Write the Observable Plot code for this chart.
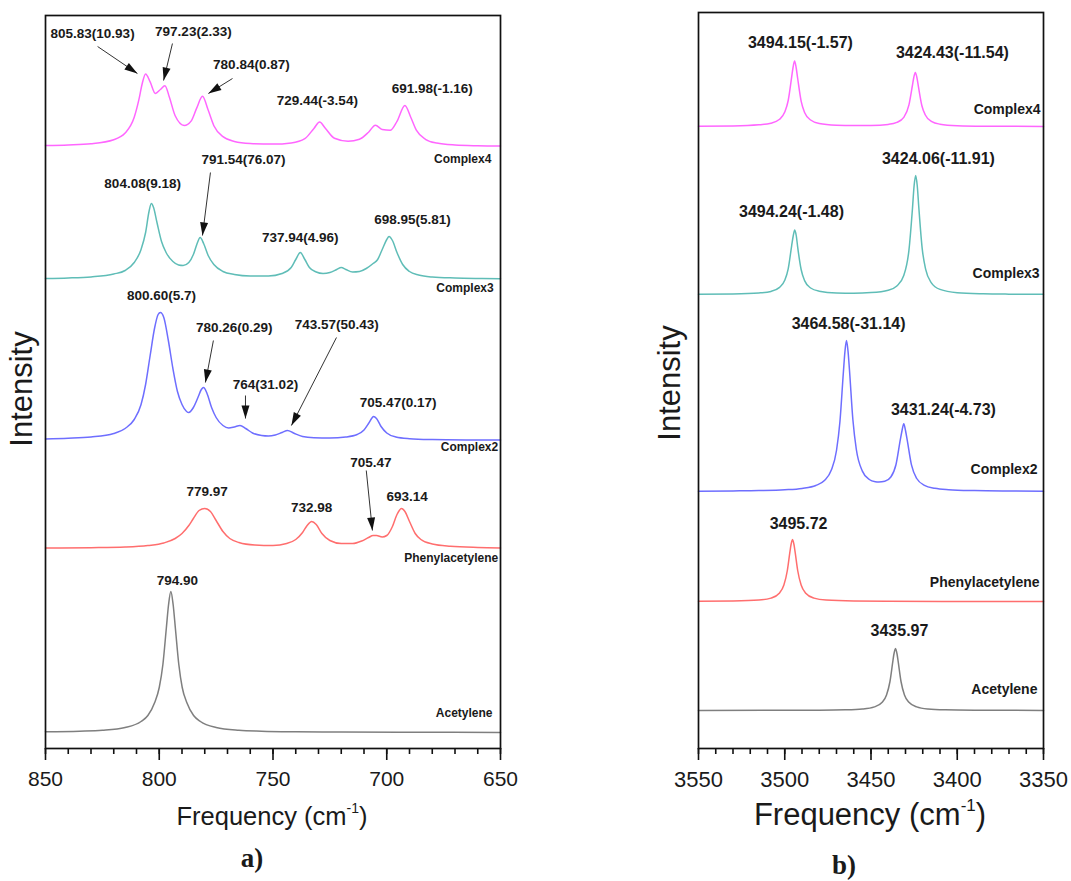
<!DOCTYPE html>
<html><head><meta charset="utf-8">
<script src="https://cdn.jsdelivr.net/npm/d3@7"></script>
<script src="https://cdn.jsdelivr.net/npm/@observablehq/plot@0.6"></script>
<style>
body{margin:0;background:#fff;font-family:"Liberation Sans",Arial,sans-serif;}
#wrap{position:relative;width:1071px;height:881px;overflow:hidden;}
#wrap svg{position:absolute;top:0;}
.lbl{position:absolute;transform:translate(-50%,-50%);white-space:nowrap;color:#1a1a1a;}
.rot{transform:translate(-50%,-50%) rotate(-90deg);}
sup{font-size:0.55em;vertical-align:0.85em;line-height:0;}
.pan{font-family:"Liberation Serif","Times New Roman",serif;font-weight:bold;font-size:27px;}
</style>
</head><body><div id="wrap"></div>
<script>
// ---------- series names & colours ----------
const seriesNames = ["Complex4","Complex3","Complex2","Phenylacetylene","Acetylene"];
const seriesColors = ["#ff66ff","#5fbdb7","#6e6eff","#ff6e6e","#7f7f7f"];

// ---------- panel a) 850-650 cm-1 : baselines and [frequency, intensity above baseline] ----------
const leftOffsets = [602, 469, 308, 200, 16];
const leftC4 = [[850,1.0],[840,1.6],[830,2.8],[820,6.8],[815,13.4],[811,29.2],[809,46.3],[807.5,62.8],[806,72.6],[804,64.6],[801.7,53],[799.5,57],[797.5,60.8],[795.5,48.9],[793,30.7],[789,21],[786,25.4],[783.5,38.6],[781,50.2],[778.5,36.4],[776,20.8],[772,9.8],[767,5.1],[760,3.0],[750,2.4],[742,3.6],[736,7.9],[732,18.1],[729.5,24.5],[727,18.2],[723,8.2],[717,5.2],[712,7.2],[708,14.3],[705,21.3],[702,17.0],[698.5,16.2],[695.5,25.2],[692,41],[689.5,29.5],[687,16.3],[683,7.2],[678,3.4],[670,1.5],[660,0.75],[650,0.45]];
const leftC3 = [[850,1.0],[840,1.5],[830,2.6],[820,5.5],[815,9],[811,17],[808,30],[806,47],[804.5,68],[803.5,76],[802.5,72],[801,57],[799,38],[797,27],[794,18],[791.5,14.5],[789.5,14],[787,17],[785,25],[783.5,35],[782,42],[780.5,36],[778.5,24],[776,15],[772,8],[767,5],[760,3.5],[752,3.5],[746,6],[742,12],[740,20],[738,27],[736,20],[734,12],[731,7.5],[728,6],[725,7],[722,10],[720,12],[718,10],[715,7.5],[712,8],[709,11],[706,16],[704,20],[702,30],[700,40],[699,43],[697.5,39],[695.5,27],[693,15],[690,8],[686,4.5],[680,2.5],[670,1.5],[660,1],[650,0.7]];
const leftC2 = [[850,1.5],[840,2.2],[830,3.5],[820,7],[815,12],[811,21],[808,36],[806,56],[804,85],[802,113],[800.5,126],[799.5,128],[798,123],[796,100],[794,72],[792,49],[790,36],[788,29],[787,28],[785,33],[783,43],[781.5,51],[780.5,53],[779,47],[777,33],[775,23],[772,15],[769.5,12.5],[767,13.5],[764.5,15],[762,12],[759,7.5],[755,5],[752,4.5],[749,5.5],[746,8],[743.6,10],[741,7.5],[737,4],[732,2.8],[725,2.5],[718,3.5],[713,6],[710,10.5],[708,17],[706.5,22.5],[705.8,24],[704.5,22],[702.5,14],[700,7.5],[696,3.5],[690,1.8],[680,0.9],[665,0.5],[650,0.4]];
const leftPh = [[850,0.4],[830,0.8],[815,1.5],[805,3],[798,5.5],[793,10],[790,15],[787,23],[785,30],[782.5,38],[780,40],[777.5,37],[775,28],[772,17],[769,10],[765,6],[758,3.5],[750,3],[744,5],[740,9],[737,16],[735,23],[733,27],[731,24],[728.5,15],[725,8],[720,5],[715,5],[711,7.5],[708,11],[706,13],[704.5,13],[702,11.5],[700,13],[697.5,22],[695.5,34],[693.5,40],[692,37],[690,27],[687.5,15],[685,9],[680,4.5],[672,2.2],[660,1],[650,0.6]];
const leftAc = [[850,0.7],[835,1.3],[825,2.2],[815,5],[808,11],[805,17],[802,30],[800,45],[798.4,68],[796.9,104],[795.9,128],[794.9,141],[793.9,128],[792.9,104],[791.4,68],[789.9,45],[787.9,30],[784.9,17],[781.9,11],[775,5],[765,2.2],[755,1.3],[740,0.7],[720,0.4],[690,0.2],[650,0.1]];

const leftPeakText = ["805.83(10.93)","797.23(2.33)","780.84(0.87)","729.44(-3.54)","691.98(-1.16)","804.08(9.18)","791.54(76.07)","737.94(4.96)","698.95(5.81)","800.60(5.7)","780.26(0.29)","764(31.02)","743.57(50.43)","705.47(0.17)","705.47","779.97","732.98","693.14","794.90"];
const leftPeakF = [829.3,785,759.5,730.5,680,807.3,763,738,688.7,799,767,753.3,722,695,707,779,733,691,792];
const leftPeakY = [715,717,684,648,660,565,589,511,529,453,421,364,424,346,286,257,241,252,168];
const leftNameF = [654,653,651,651,653.5];
const leftNameY = [589,460,301,190,35];
// arrows: [from freq, from y, to freq, to y]
const leftArrows = [[827.1,702,809.6,675],[794.2,705,798.1,668],[767.8,670,778.4,655],[777.5,576,781,513],[776.2,408,779.7,366],[762.1,353,762.1,330],[722.1,411,741.9,323],[709,278,706.3,218]];
const leftMajor = [850,800,750,700,650];
const leftMinor = d3.range(650, 851, 10);

// ---------- panel b) 3550-3350 cm-1 ----------
const rightOffsets = [622, 454, 257, 147, 38];
const rightC4 = [[3550,0.3],[3530,0.6],[3515,1.7],[3508,3.3],[3503,7.2],[3500,14.4],[3498,26],[3496,49.3],[3495.2,59],[3494.3,65.4],[3493.4,59],[3492.5,48],[3490.5,25.3],[3488.5,14],[3485,6.5],[3480,3],[3470,1.3],[3460,0.9],[3450,1.0],[3440,2.1],[3435,4.1],[3431,9.2],[3428,21.6],[3426,41],[3425.2,49],[3424.3,54.1],[3423.4,49],[3422.5,39.8],[3420.5,20.8],[3418.5,11.5],[3415,5.1],[3410,2.3],[3400,0.8],[3385,0.3],[3350,0.1]];
const rightC3 = [[3550,0.3],[3530,0.6],[3515,1.6],[3508,3.1],[3503,7.1],[3500,14.2],[3498,25.7],[3496,48.7],[3495.1,58.5],[3494.2,64.4],[3493.3,58.5],[3492.5,47.4],[3490.5,25],[3488.5,13.9],[3485,6.5],[3480,3.3],[3470,1.5],[3460,1.3],[3450,1.9],[3440,4.3],[3435,8.5],[3431,19],[3428,44.4],[3426,85],[3425,109],[3424.1,119],[3423.2,109],[3422.3,87.5],[3420.3,45.7],[3418.3,25.1],[3415,11.7],[3410,5.1],[3400,1.8],[3385,0.7],[3370,0.35],[3350,0.2]];
const rightC2 = [[3550,0.35],[3530,0.6],[3515,0.9],[3500,1.7],[3490,3.1],[3482,6],[3477,11],[3473,21.4],[3470,41],[3468,70],[3466,119.5],[3465.1,140],[3464.2,151],[3463.3,140],[3462.5,122],[3460.5,71.7],[3458.5,42],[3455,20.4],[3451,12],[3447.5,9.8],[3445.5,9.5],[3442,10.2],[3438.5,14.5],[3435.5,27],[3433,51.8],[3432,61],[3431,67.8],[3430,61],[3429,51.4],[3426.5,26.3],[3423.5,13],[3419,6.2],[3413,3.2],[3405,1.8],[3390,0.9],[3370,0.5],[3350,0.35]];
const rightPh = [[3550,0.2],[3530,0.5],[3515,1.4],[3508,3.4],[3503,8.6],[3500.5,16.4],[3498.5,31],[3497,49.6],[3496.4,56.5],[3495.5,62],[3494.6,56.5],[3494,49.6],[3492.5,31],[3490.5,16.4],[3488,8.6],[3483,3.4],[3476,1.4],[3460,0.44],[3440,0.2],[3400,0.07],[3350,0]];
const rightAc = [[3550,0.1],[3500,0.2],[3480,0.3],[3465,0.66],[3455,1.5],[3448,3.6],[3443.5,8.2],[3441,15.5],[3439,29],[3437.3,49.6],[3436.7,56.5],[3435.8,62],[3434.9,56.5],[3434.3,49.6],[3432.6,29],[3430.6,15.5],[3428,8.2],[3423.5,3.6],[3417,1.5],[3407,0.66],[3390,0.3],[3350,0.1]];

const rightPeakText = ["3494.15(-1.57)","3424.43(-11.54)","3424.06(-11.91)","3494.24(-1.48)","3464.58(-31.14)","3431.24(-4.73)","3495.72","3435.97"];
const rightPeakF = [3490.9,3402.8,3410.9,3496.1,3463,3408,3492,3433.5];
const rightPeakY = [706,696,590,537,425,339,225,118];
const rightNameF = [3351.7,3352.3,3353.5,3352.3,3353.5];
const rightNameY = [639,475,279,166,59];
const rightMajor = [3550,3500,3450,3400,3350];
const rightMinor = d3.range(3350, 3551, 10);

// ---------- drawing ----------
const arrowHead = {draw(ctx){ ctx.moveTo(0,0); ctx.lineTo(-4,13); ctx.lineTo(4,13); ctx.closePath(); }};

function buildPanel(cfg, heads) {
  const rows = seriesNames.flatMap((name, k) => cfg.points[k].map(([f, v]) => ({name, f, y: cfg.offsets[k] + v})));
  const peakRows = cfg.peakText.map((t, i) => ({t, f: cfg.peakF[i], y: cfg.peakY[i]}));
  const nameRows = seriesNames.map((t, i) => ({t, f: cfg.nameF[i], y: cfg.nameY[i]}));
  const marks = [
    Plot.line(rows, {x: "f", y: "y", z: "name", stroke: "name", curve: "monotone-x", strokeWidth: 1.5}),
    Plot.frame({stroke: "#111", strokeWidth: 1.7}),
    Plot.axisX({ticks: cfg.minor, tickSize: 6, tickFormat: () => "", stroke: "#111", strokeWidth: 1.6, label: null}),
    Plot.axisX({ticks: cfg.major, tickSize: 12, tickPadding: 11, stroke: "#111", strokeWidth: 1.6, fill: "#1a1a1a", fontSize: cfg.tickFont, label: null, tickFormat: d => String(d)}),
    Plot.text(peakRows, {x: "f", y: "y", text: "t", fontWeight: "bold", fontSize: cfg.peakFont, fill: "#1a1a1a"}),
    Plot.text(nameRows, {x: "f", y: "y", text: "t", textAnchor: "end", fontWeight: "bold", fontSize: cfg.nameFont, fill: "#1a1a1a"})
  ];
  if (cfg.arrows.length) marks.push(Plot.link(cfg.arrows, {x1: d => d[0], y1: d => d[1], x2: d => d[2], y2: d => d[3], stroke: "#333", strokeWidth: 1}));
  if (heads) marks.push(Plot.dot(heads, {x: "x", y: "y", rotate: "ang", symbol: arrowHead, fill: "#111", stroke: "none", r: 5}));
  return Plot.plot({
    width: cfg.width, height: 800,
    marginLeft: cfg.ml, marginRight: cfg.mr, marginTop: cfg.mt, marginBottom: 52,
    x: {domain: cfg.xDomain},
    y: {domain: cfg.yDomain, axis: null},
    color: {domain: seriesNames, range: seriesColors},
    style: {fontFamily: '"Liberation Sans", Arial, sans-serif', background: "transparent", overflow: "visible"},
    marks
  });
}

function panel(cfg) {
  let heads = null;
  if (cfg.arrows.length) {
    const p0 = buildPanel(cfg, null);
    const sx = p0.scale("x"), sy = p0.scale("y");
    heads = cfg.arrows.map(a => {
      const dx = sx.apply(a[2]) - sx.apply(a[0]);
      const dy = sy.apply(a[3]) - sy.apply(a[1]);
      return {x: a[2], y: a[3], ang: Math.atan2(dx, -dy) * 180 / Math.PI};
    });
  }
  return buildPanel(cfg, heads);
}

const wrap = document.getElementById("wrap");
const left = panel({
  points: [leftC4, leftC3, leftC2, leftPh, leftAc], offsets: leftOffsets,
  peakText: leftPeakText, peakF: leftPeakF, peakY: leftPeakY, nameF: leftNameF, nameY: leftNameY,
  arrows: leftArrows, major: leftMajor, minor: leftMinor,
  xDomain: [850, 650], yDomain: [0, 733], width: 520, ml: 45, mr: 20, mt: 15,
  tickFont: 21, peakFont: 13.5, nameFont: 12
});
left.style.left = "0px";
wrap.appendChild(left);

const right = panel({
  points: [rightC4, rightC3, rightC2, rightPh, rightAc], offsets: rightOffsets,
  peakText: rightPeakText, peakF: rightPeakF, peakY: rightPeakY, nameF: rightNameF, nameY: rightNameY,
  arrows: [], major: rightMajor, minor: rightMinor,
  xDomain: [3550, 3350], yDomain: [0, 736], width: 421, ml: 48, mr: 28, mt: 12,
  tickFont: 22, peakFont: 16, nameFont: 14
});
right.style.left = "650px";
wrap.appendChild(right);

function addLabel(html, x, y, cls, size) {
  const d = document.createElement("div");
  d.className = "lbl " + (cls || "");
  d.innerHTML = html;
  d.style.left = x + "px"; d.style.top = y + "px";
  if (size) d.style.fontSize = size + "px";
  wrap.appendChild(d);
}
addLabel("Intensity", 22, 389, "rot", 31);
addLabel("Intensity", 670, 383, "rot", 31);
addLabel("Frequency (cm<sup>-1</sup>)", 272, 816, "", 25.5);
addLabel("Frequency (cm<sup>-1</sup>)", 870, 815, "", 31);
addLabel("a)", 252, 858, "pan");
addLabel("b)", 844, 865, "pan");
</script>
</body></html>
